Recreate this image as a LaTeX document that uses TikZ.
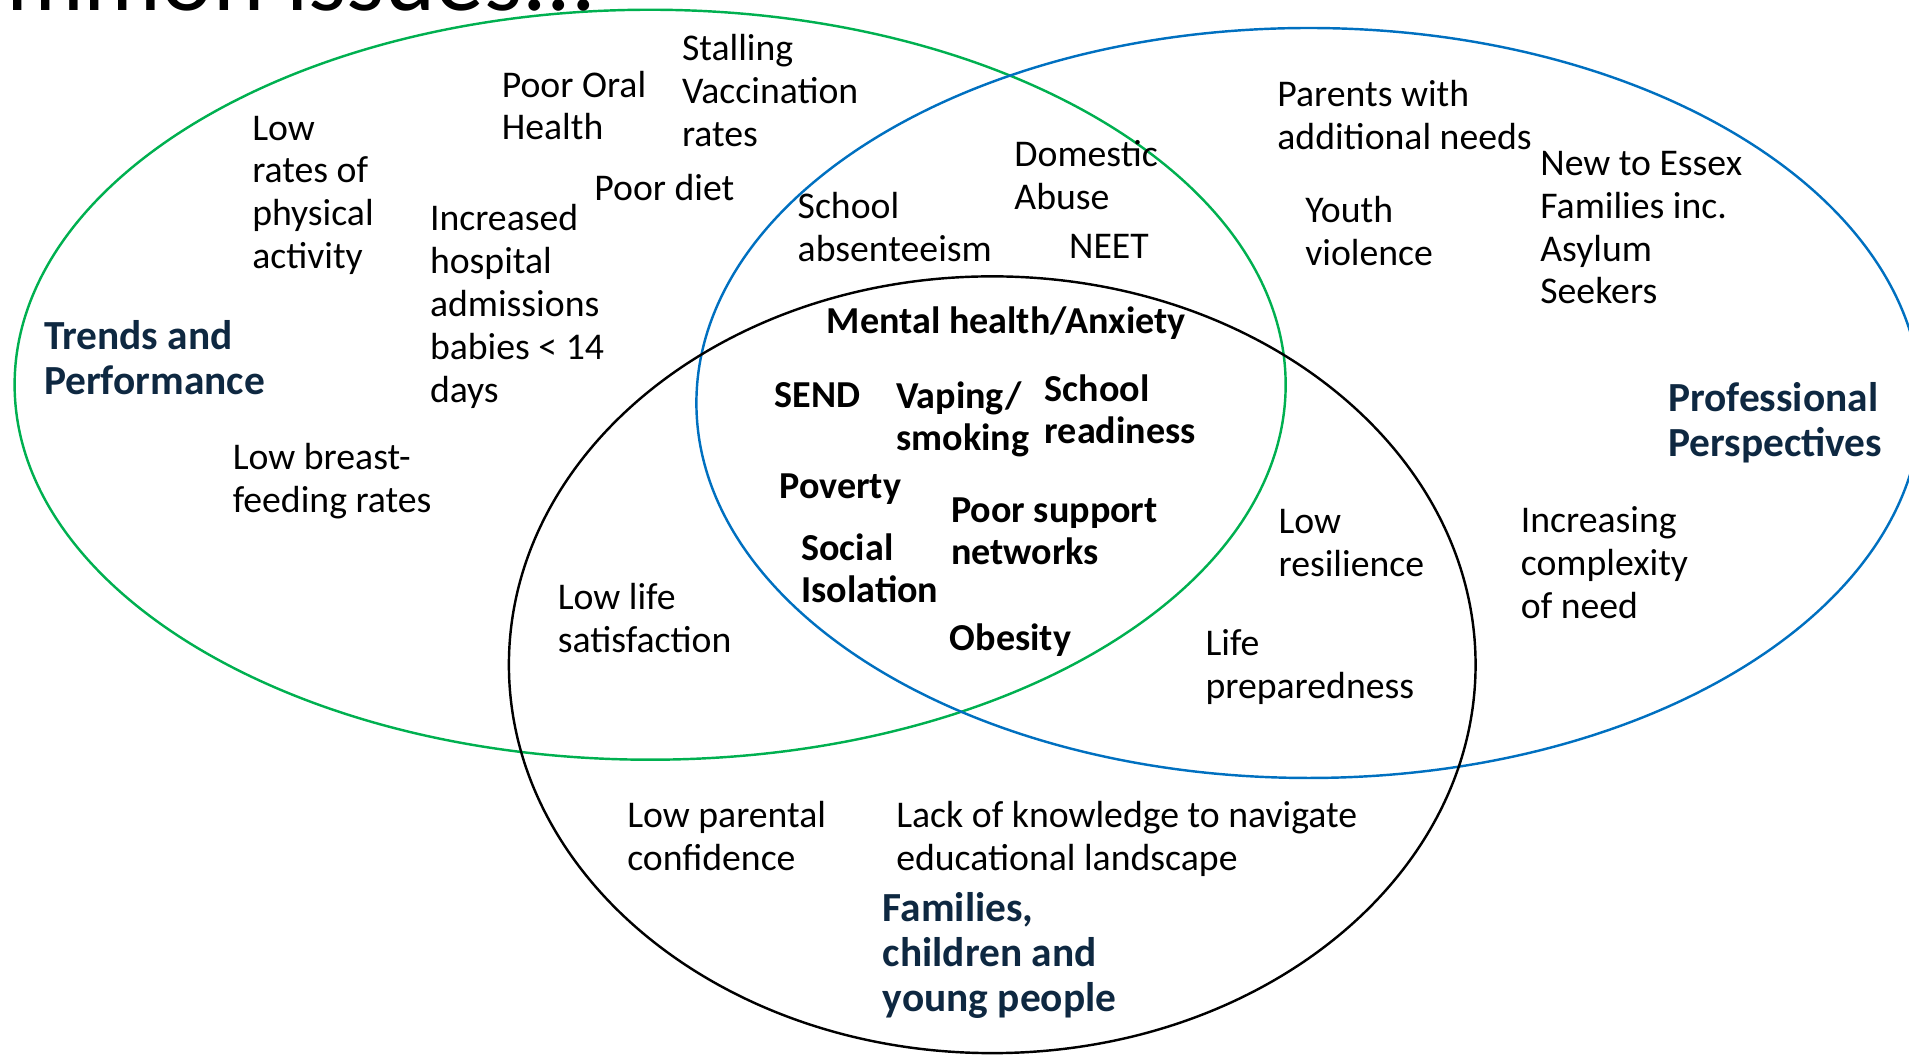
\documentclass[tikz,border=0pt]{standalone}
\usepackage{fontspec}
\setmainfont{Carlito}
\usepackage{tikz}

\definecolor{navy}{HTML}{0E2841}
\definecolor{ringgreen}{HTML}{00B050}
\definecolor{ringblue}{HTML}{0070C0}

\begin{document}
\begin{tikzpicture}[x=1pt,y=-1pt,
  ring/.style={line width=2pt},
  item node/.style={anchor=north west,inner sep=0pt,align=left,font=\fontsize{31}{35.2}\selectfont},
  core node/.style={item node,font=\fontsize{31.3}{34.5}\selectfont\bfseries},
  title node/.style={item node,text=navy,font=\fontsize{34}{37}\selectfont\bfseries}]
  \useasboundingbox (0,0) rectangle (1568,866);

  % the three circles
  \draw[ring,draw=ringgreen] (534,316) ellipse (522pt and 308pt);
  \draw[ring,draw=ringblue] (1075,331) ellipse (503pt and 308pt);
  \draw[ring,draw=black] (815,546) ellipse (397pt and 319pt);

  \node[anchor=base east,inner sep=0pt,font=\fontsize{80}{90}\selectfont] (head) at (490,9) {Common issues...};

  % trends and performance
  \node[item node] (stall) at (560,28) {Stalling\\Vaccination\\rates};
  \node[item node] (oral) at (412,58) {Poor Oral\\Health};
  \node[item node] (activity) at (207,95) {Low\\rates of\\physical\\activity};
  \node[item node] (diet) at (488,143) {Poor diet};
  \node[item node] (hospital) at (353,168) {Increased\\hospital\\admissions\\babies < 14\\days};
  \node[title node] (trends) at (36,263) {Trends and\\Performance};
  \node[item node] (breast) at (191,364) {Low breast-\\feeding rates};
  \node[item node] (absent) at (655,158) {School\\absenteeism};
  \node[item node] (abuse) at (833,115) {Domestic\\Abuse};
  \node[item node] (neet) at (878,192) {NEET};

  % professional perspectives
  \node[item node] (parents) at (1049,66) {Parents with\\additional needs};
  \node[item node] (essex) at (1265,124) {New to Essex\\Families inc.\\Asylum\\Seekers};
  \node[item node] (youth) at (1072,161) {Youth\\violence};
  \node[title node] (prof) at (1370,314) {Professional\\Perspectives};
  \node[item node] (complex) at (1249,416) {Increasing\\complexity\\of need};
  \node[item node] (resil) at (1050,418) {Low\\resilience};
  \node[item node] (life) at (990,517) {Life\\preparedness};

  % families
  \node[item node] (satis) at (458,479) {Low life\\satisfaction};
  \node[item node] (parental) at (515,658) {Low parental\\confidence};
  \node[item node] (navigate) at (736,658) {Lack of knowledge to navigate\\educational landscape};
  \node[title node] (families) at (725,733) {Families,\\children and\\young people};

  % middle
  \node[core node] (mental) at (679,252) {Mental health/Anxiety};
  \node[core node] (send) at (636,314) {SEND};
  \node[core node] (vaping) at (736,313) {Vaping/\\smoking};
  \node[core node] (ready) at (858,308) {School\\readiness};
  \node[core node] (poverty) at (640,389) {Poverty};
  \node[core node] (support) at (781,409) {Poor support\\networks};
  \node[core node] (social) at (658,438) {Social\\Isolation};
  \node[core node] (obesity) at (780,512) {Obesity};
\end{tikzpicture}
\end{document}
